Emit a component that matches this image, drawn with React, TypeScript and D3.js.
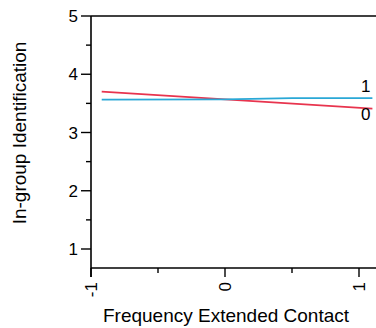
import React from "react";
import * as d3 from "d3";

const xMajorTicks = [-1, 0, 1];
const xMinorTicks = [-0.5, 0.5];
const yMajorTicks = [1, 2, 3, 4, 5];
const yMinorTicks = [1.5, 2.5, 3.5, 4.5];

const seriesNames = ["0", "1"];
const seriesColors = ["#E8344E", "#2AA8D6"];
const xValues0 = [-0.92, 1.1];
const yValues0 = [3.7, 3.41];
const xValues1 = [-0.92, 0, 0.5, 1.1];
const yValues1 = [3.565, 3.57, 3.59, 3.59];

const xTitle = "Frequency Extended Contact";
const yTitle = "In-group Identification";

export default function App() {
  const W = 376, H = 328;
  const x = d3.scaleLinear().domain([-1, 1]).range([91, 359]);
  const y = d3.scaleLinear().domain([1, 5]).range([249, 16]);
  const yBottom = 268;
  const line = d3.line<[number, number]>().x(d => x(d[0])).y(d => y(d[1]));
  const s0: [number, number][] = xValues0.map((v, i) => [v, yValues0[i]]);
  const s1: [number, number][] = xValues1.map((v, i) => [v, yValues1[i]]);
  const font = "Arial, 'Liberation Sans', sans-serif";
  const last0 = s0[s0.length - 1];
  const last1 = s1[s1.length - 1];
  return (
    <svg width={W} height={H} style={{ position: "absolute", left: 0, top: 0, background: "#fff" }} fontFamily={font}>
      {/* lines */}
      <path d={line(s0) || ""} fill="none" stroke={seriesColors[0]} strokeWidth={1.8} />
      <path d={line(s1) || ""} fill="none" stroke={seriesColors[1]} strokeWidth={1.8} />
      {/* axes */}
      <line x1={x(-1)} x2={W} y1={y(5)} y2={y(5)} stroke="#000" strokeWidth={1.6} />
      <line x1={x(-1)} x2={W} y1={yBottom} y2={yBottom} stroke="#000" strokeWidth={1.6} />
      <line x1={x(-1)} x2={x(-1)} y1={y(5)} y2={yBottom + 9} stroke="#000" strokeWidth={1.6} />
      {yMajorTicks.map(t => (
        <g key={"ym" + t}>
          <line x1={x(-1) - 10} x2={x(-1)} y1={y(t)} y2={y(t)} stroke="#000" strokeWidth={1.4} />
          <text x={x(-1) - 13} y={y(t)} dy="0.36em" textAnchor="end" fontSize={17}>{t}</text>
        </g>
      ))}
      {yMinorTicks.map(t => (
        <line key={"yn" + t} x1={x(-1) - 5} x2={x(-1)} y1={y(t)} y2={y(t)} stroke="#000" strokeWidth={1.4} />
      ))}
      {xMajorTicks.map(t => (
        <g key={"xm" + t}>
          <line x1={x(t)} x2={x(t)} y1={yBottom} y2={yBottom + 9} stroke="#000" strokeWidth={1.4} />
          <text transform={`translate(${x(t)},${yBottom + 14}) rotate(-90)`} dy="0.36em" textAnchor="end" fontSize={17}>{t}</text>
        </g>
      ))}
      {xMinorTicks.map(t => (
        <line key={"xn" + t} x1={x(t)} x2={x(t)} y1={yBottom} y2={yBottom + 5} stroke="#000" strokeWidth={1.4} />
      ))}
      {/* series labels */}
      <text x={x(1.05)} y={y(last1[1]) - 6} textAnchor="middle" fontSize={17}>{seriesNames[1]}</text>
      <text x={x(1.05)} y={y(last0[1]) + 11} textAnchor="middle" fontSize={17}>{seriesNames[0]}</text>
      {/* titles */}
      <text x={226} y={322} textAnchor="middle" fontSize={19}>{xTitle}</text>
      <text transform={`translate(26,133) rotate(-90)`} textAnchor="middle" fontSize={19}>{yTitle}</text>
    </svg>
  );
}
